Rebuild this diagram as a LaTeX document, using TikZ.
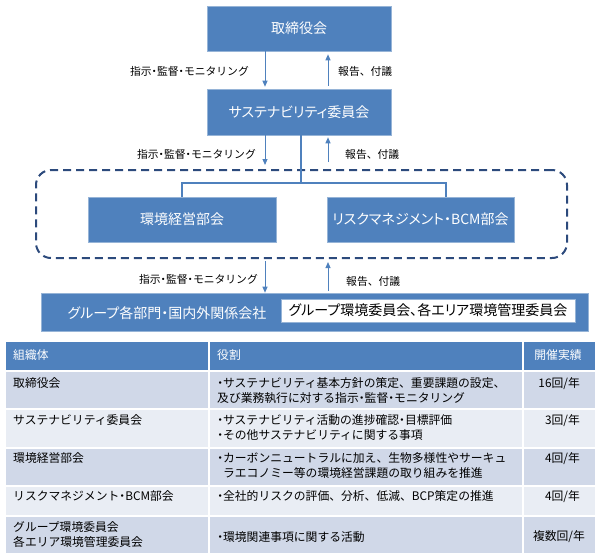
\documentclass[tikz,border=0pt]{standalone}
\usepackage{fontspec}
\setmainfont{Noto Sans CJK JP}
\newfontfamily\boxfont{Noto Sans CJK JP}[RawFeature=+palt]
\newcommand{\nkg}{{\boxfont ・}}
\usepackage{tikz}
\usetikzlibrary{arrows.meta, positioning, calc}
\definecolor{boxblue}{RGB}{79,129,189}
\definecolor{boxedge}{RGB}{150,180,215}
\definecolor{framenavy}{RGB}{44,74,124}
\definecolor{rowdark}{RGB}{208,216,232}
\definecolor{rowlight}{RGB}{233,237,244}

\begin{document}
\begin{tikzpicture}[
    x=1pt, y=-1pt,
    unit/.style={draw=boxedge, line width=0.6pt, fill=boxblue, text=white, inner sep=0pt, minimum height=45pt, font=\boxfont\fontsize{14}{16}\selectfont},
    panel/.style={draw=framenavy, line width=2pt, dash pattern=on 8pt off 5pt, rounded corners=15pt, inner sep=0pt},
    flow/.style={draw=boxblue, line width=1pt, -{Triangle[length=6pt,width=5pt]}},
    link/.style={draw=boxblue, line width=1.2pt},
    note/.style={font=\fontsize{10.8}{12}\selectfont, inner sep=0pt},
    cell/.style={fill=#1, anchor=north west, inner sep=0pt},
    celltext/.style={font=\fontsize{11.8}{15}\selectfont, inner sep=0pt, align=left}
]
    \useasboundingbox (0,0) rectangle (600,558);

    % Board and committee
    \node[unit, minimum width=184pt] (board) at (299,28.5) {取締役会};
    \node[unit, minimum width=184pt, minimum height=46pt] (sust) at (299,112) {サステナビリティ委員会};

    % Subcommittees inside dashed frame
    \node[panel, minimum width=531pt, minimum height=88pt] (frame) at (301.5,214) {};
    \node[unit, minimum width=188pt] (env) at (182,219.5) {環境経営部会};
    \node[unit, minimum width=187pt] (risk) at (420.5,219.5) {リスクマネジメント・BCM部会};

    % Group companies
    \node[unit, minimum width=547pt, minimum height=38pt] (group) at (314.5,312) {};
    \node[text=white, font=\boxfont\fontsize{14}{16}\selectfont, inner sep=0pt] (grouptext) at (167,313) {グループ各部門・国内外関係会社};
    \node[draw=boxedge, fill=white, minimum width=294pt, minimum height=23pt, inner sep=0pt, font=\boxfont\fontsize{14}{16}\selectfont] (areas) at (428,310.5) {グループ環境委員会、各エリア環境管理委員会};

    % Connections
    \coordinate (dn) at (265,0);
    \coordinate (up) at (328,0);
    \coordinate (split) at (301,183);
    \coordinate (branch) at (446,183);

    \draw[flow, shorten >=2pt] (board.south -| dn) -- (sust.north -| dn);
    \draw[flow, shorten <=3pt, shorten >=3pt] (sust.north -| up) -- (board.south -| up);
    \node[note, anchor=east] (cmd1) at (249,71) {指示\nkg 監督\nkg モニタリング};
    \node[note, anchor=west] (rep1) at (338,71) {報告、付議};

    \draw[flow, shorten >=4pt] (sust.south -| dn) -- (frame.north -| dn);
    \draw[flow, shorten <=7pt, shorten >=2pt] (frame.north -| up) -- (sust.south -| up);
    \node[note, anchor=east] (cmd2) at (256,154) {指示\nkg 監督\nkg モニタリング};
    \node[note, anchor=west] (rep2) at (345,154) {報告、付議};

    \draw[link] (sust.south -| split) -- (split);
    \draw[link] (env.north) |- (branch) -- (risk.north -| branch);

    \draw[flow, shorten <=2pt] (frame.south -| dn) -- (group.north -| dn);
    \draw[flow, shorten <=2pt, shorten >=3pt] (group.north -| up) -- (frame.south -| up);
    \node[note, anchor=east] (cmd3) at (258,279) {指示\nkg 監督\nkg モニタリング};
    \node[note, anchor=west] (rep3) at (346,281) {報告、付議};

    % Table header
    \node[cell=boxblue, minimum width=202pt, minimum height=28pt] (h1) at (6,342) {};
    \node[cell=boxblue, minimum width=312pt, minimum height=28pt] (h2) at (210,342) {};
    \node[cell=boxblue, minimum width=71pt, minimum height=28pt] (h3) at (524,342) {};
    \node[celltext, text=white, anchor=west] (h1t) at (13,355) {組織体};
    \node[celltext, text=white, anchor=west] (h2t) at (217,355) {役割};
    \node[celltext, text=white] (h3t) at (558,355) {開催実績};

    % Table rows
    \node[cell=rowdark, minimum width=202pt, minimum height=36pt] (r1a) at (6,372) {};
    \node[cell=rowdark, minimum width=312pt, minimum height=36pt] (r1b) at (210,372) {};
    \node[cell=rowdark, minimum width=71pt, minimum height=36pt] (r1c) at (524,372) {};
    \node[cell=rowlight, minimum width=202pt, minimum height=37pt] (r2a) at (6,410) {};
    \node[cell=rowlight, minimum width=312pt, minimum height=37pt] (r2b) at (210,410) {};
    \node[cell=rowlight, minimum width=71pt, minimum height=37pt] (r2c) at (524,410) {};
    \node[cell=rowdark, minimum width=202pt, minimum height=36pt] (r3a) at (6,449) {};
    \node[cell=rowdark, minimum width=312pt, minimum height=36pt] (r3b) at (210,449) {};
    \node[cell=rowdark, minimum width=71pt, minimum height=36pt] (r3c) at (524,449) {};
    \node[cell=rowlight, minimum width=202pt, minimum height=28pt] (r4a) at (6,487) {};
    \node[cell=rowlight, minimum width=312pt, minimum height=28pt] (r4b) at (210,487) {};
    \node[cell=rowlight, minimum width=71pt, minimum height=28pt] (r4c) at (524,487) {};
    \node[cell=rowdark, minimum width=202pt, minimum height=36pt] (r5a) at (6,517) {};
    \node[cell=rowdark, minimum width=312pt, minimum height=36pt] (r5b) at (210,517) {};
    \node[cell=rowdark, minimum width=71pt, minimum height=36pt] (r5c) at (524,517) {};

    % Row texts
    \node[celltext, anchor=north west] (t1a) at (13,377) {取締役会};
    \node[celltext, anchor=north west] (t1b) at (217,377) {\nkg サステナビリティ基本方針の策定、重要課題の設定、\\及び業務執行に対する指示\nkg 監督\nkg モニタリング};
    \node[celltext, anchor=north east] (t1c) at (580,377) {16回/年};
    \node[celltext, anchor=north west] (t2a) at (13,414) {サステナビリティ委員会};
    \node[celltext, anchor=north west] (t2b) at (217,414) {\nkg サステナビリティ活動の進捗確認\nkg 目標評価\\\nkg その他サステナビリティに関する事項};
    \node[celltext, anchor=north east] (t2c) at (580,414) {3回/年};
    \node[celltext, anchor=north west] (t3a) at (13,452) {環境経営部会};
    \node[celltext, anchor=north west] (t3b) at (217,452) {\nkg カーボンニュートラルに加え、生物多様性やサーキュ\\\phantom{\nkg}ラエコノミー等の環境経営課題の取り組みを推進};
    \node[celltext, anchor=north east] (t3c) at (580,452) {4回/年};
    \node[celltext, anchor=north west] (t4a) at (13,490) {リスクマネジメント\nkg BCM部会};
    \node[celltext, anchor=north west] (t4b) at (217,490) {\nkg 全社的リスクの評価、分析、低減、BCP策定の推進};
    \node[celltext, anchor=north east] (t4c) at (580,490) {4回/年};
    \node[celltext, anchor=north west] (t5a) at (13,521) {グループ環境委員会\\各エリア環境管理委員会};
    \node[celltext, anchor=west] (t5b) at (217,537) {\nkg 環境関連事項に関する活動};
    \node[celltext] (t5c) at (559,537) {複数回/年};

\end{tikzpicture}
\end{document}
